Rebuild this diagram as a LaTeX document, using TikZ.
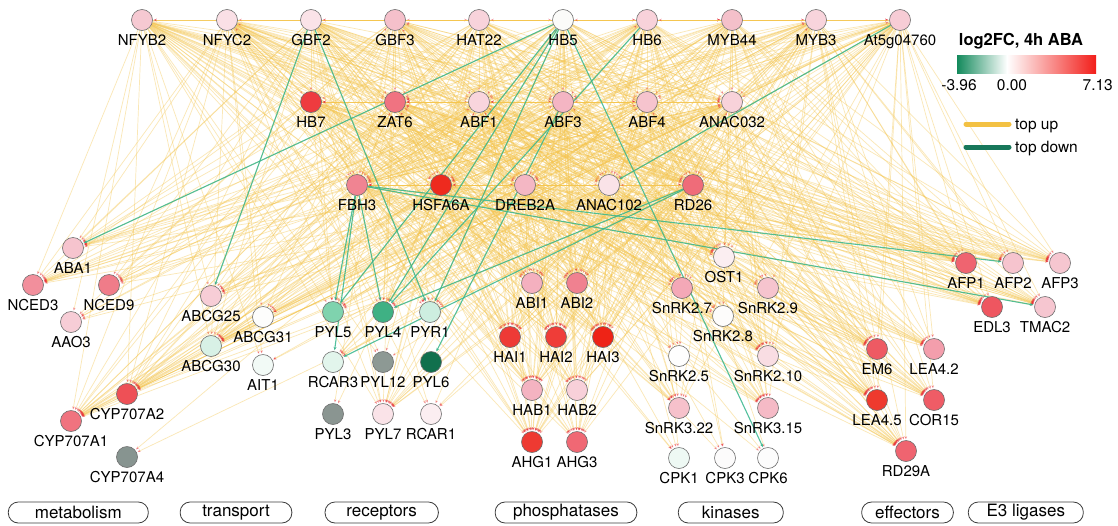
\documentclass[tikz,border=0pt]{standalone}
\usepackage{fontspec}
\setmainfont{TeX Gyre Heros}
\usetikzlibrary{arrows.meta}
\pgfdeclarelayer{bg}
\pgfsetlayers{bg,main}

\definecolor{nodeline}{HTML}{6E6E6E}
\definecolor{edgeup}{HTML}{F5C650}
\definecolor{edgedown}{HTML}{36B68C}
\definecolor{tipred}{HTML}{E8303A}
\definecolor{boxline}{HTML}{3C3C3C}
\definecolor{fcgreen}{HTML}{138A5C}
\definecolor{fcred}{HTML}{F21E1A}
\definecolor{legup}{HTML}{F3C143}
\definecolor{legdown}{HTML}{17775A}

\tikzset{
  gnode/.style={circle, draw=nodeline, line width=0.6pt, minimum size=21pt, inner sep=0pt},
  glabel/.style={anchor=base, inner sep=0pt, font=\fontsize{15}{18}\selectfont},
  yedge/.style={draw=edgeup, line width=0.7pt, opacity=0.42, shorten >=1pt,
    -{Stealth[length=3pt,width=2.6pt,color=tipred]}},
  gedge/.style={draw=edgedown, line width=1.1pt, opacity=0.85, shorten >=1pt,
    -{Stealth[length=3.5pt,width=3pt]}},
  catbox/.style={draw=boxline, line width=0.8pt, rounded corners=10pt,
    minimum height=21pt, inner sep=0pt, font=\fontsize{17}{20}\selectfont},
  legtext/.style={inner sep=0pt, font=\fontsize{15.5}{18}\selectfont},
}

% one gene: id, x, y, fill (HTML), printed name
\newcommand\gene[5]{%
  \definecolor{c#1}{HTML}{#4}%
  \node[gnode, fill=c#1] (#1) at (#2,#3) {};%
  \node[glabel] (#1-l) at (#2,#3+25) {#5};%
}

% regulators with their relative out-degree
\newcommand\regulatorlist{NFYB2/1.3,NFYC2/1.3,GBF2/1.3,GBF3/1.3,HAT22/1.3,HB5/1.3,HB6/1.3,MYB44/1.3,MYB3/1.3,At5g04760/1.3,HB7/1.0,ZAT6/1.0,ABF1/1.0,ABF3/1.0,ABF4/1.0,ANAC032/1.0,FBH3/0.8,HSFA6A/0.8,DREB2A/0.8,ANAC102/0.8,RD26/0.8}
% targets with their relative in-degree
\newcommand\targetlist{NFYB2/0.05,NFYC2/0.04,GBF2/0.04,GBF3/0.06,HAT22/0.06,HB5/0.03,HB6/0.06,MYB44/0.06,MYB3/0.06,At5g04760/0.06,HB7/0.15,ZAT6/0.3,ABF1/0.25,ABF3/0.3,ABF4/0.25,ANAC032/0.3,FBH3/0.4,HSFA6A/0.45,DREB2A/0.3,ANAC102/0.3,RD26/0.35,ABA1/0.2,NCED3/0.3,NCED9/0.15,AAO3/0.15,CYPA2/0.55,CYPA1/0.45,CYPA4/0.05,ABCG25/0.2,ABCG31/0.2,ABCG30/0.3,AIT1/0.1,PYL5/0.2,PYL4/0.2,PYR1/0.2,RCAR3/0.15,PYL12/0.05,PYL6/0.05,PYL3/0.05,PYL7/0.25,RCAR1/0.1,ABI1/0.25,ABI2/0.35,HAI1/0.5,HAI2/0.5,HAI3/0.45,HAB1/0.45,HAB2/0.25,AHG1/0.45,AHG3/0.3,OST1/0.3,SnRK27/0.2,SnRK28/0.1,SnRK29/0.15,SnRK25/0.1,SnRK210/0.3,SnRK322/0.2,SnRK315/0.25,CPK1/0.1,CPK3/0.1,CPK6/0.05,EM6/0.35,LEA42/0.3,LEA45/0.45,COR15/0.35,RD29A/0.5,AFP1/0.35,AFP2/0.3,AFP3/0.3,EDL3/0.5,TMAC2/0.35}

\begin{document}
\begin{tikzpicture}[x=1pt, y=-1pt]
\useasboundingbox (0,0) rectangle (1118,525);
\begin{pgfonlayer}{bg}
  \fill[white] (0,0) rectangle (1118,525);
\end{pgfonlayer}

% ---- transcription factors
\gene{NFYB2}{142}{20}{F6C9D2}{NFYB2}
\gene{NFYC2}{227}{20}{FAE0E6}{NFYC2}
\gene{GBF2}{311}{20}{FBE3E8}{GBF2}
\gene{GBF3}{395}{20}{F5C0CB}{GBF3}
\gene{HAT22}{479}{20}{F8D3DB}{HAT22}
\gene{HB5}{563}{20}{FBFBF9}{HB5}
\gene{HB6}{647}{20}{F8D2DA}{HB6}
\gene{MYB44}{732}{20}{F4C0CA}{MYB44}
\gene{MYB3}{816}{20}{F8D4DC}{MYB3}
\gene{At5g04760}{900}{20}{F7CCD5}{At5g04760}
\gene{HB7}{311}{102}{EE3B3F}{HB7}
\gene{ZAT6}{395}{102}{F07381}{ZAT6}
\gene{ABF1}{479}{102}{F9D5DD}{ABF1}
\gene{ABF3}{563}{102}{F4B5C3}{ABF3}
\gene{ABF4}{647}{102}{F6C4CE}{ABF4}
\gene{ANAC032}{732}{102}{F8D2DA}{ANAC032}
\gene{FBH3}{357}{185}{F08492}{FBH3}
\gene{HSFA6A}{441}{185}{EE2A1E}{HSFA6A}
\gene{DREB2A}{525}{185}{F4B7C4}{DREB2A}
\gene{ANAC102}{609}{185}{FAE3E8}{ANAC102}
\gene{RD26}{693}{185}{EF6C79}{RD26}

% ---- metabolism
\gene{ABA1}{73}{248}{F6C4CE}{ABA1}
\gene{NCED3}{33}{285}{F28F9C}{NCED3}
\gene{NCED9}{109}{285}{F07C89}{NCED9}
\gene{AAO3}{71}{322}{F7CDD6}{AAO3}
\gene{CYPA2}{127}{394}{EE5056}{CYP707A2}
\gene{CYPA1}{71}{421}{F0737F}{CYP707A1}
\gene{CYPA4}{127}{457}{879490}{CYP707A4}

% ---- transport
\gene{ABCG25}{211}{296}{F7CDD6}{ABCG25}
\gene{ABCG31}{263}{317}{FDFDFC}{ABCG31}
\gene{ABCG30}{211}{346}{D8F1E6}{ABCG30}
\gene{AIT1}{263}{365}{F2FAF6}{AIT1}

% ---- receptors
\gene{PYL5}{333}{312}{7FD3AE}{PYL5}
\gene{PYL4}{383}{312}{3FB184}{PYL4}
\gene{PYR1}{430}{312}{CDEEE0}{PYR1}
\gene{RCAR3}{333}{362}{E2F5EC}{RCAR3}
\gene{PYL12}{383}{362}{8D9994}{PYL12}
\gene{PYL6}{431}{362}{11704D}{PYL6}
\gene{PYL3}{333}{414}{8A9591}{PYL3}
\gene{PYL7}{383}{414}{FAE3E8}{PYL7}
\gene{RCAR1}{431}{414}{FBEEF1}{RCAR1}

% ---- phosphatases
\gene{ABI1}{532}{283}{F4B0BF}{ABI1}
\gene{ABI2}{577}{283}{F08190}{ABI2}
\gene{HAI1}{510}{337}{EE3A36}{HAI1}
\gene{HAI2}{556}{337}{EF3D38}{HAI2}
\gene{HAI3}{603}{337}{EE2316}{HAI3}
\gene{HAB1}{532}{390}{F4B3C1}{HAB1}
\gene{HAB2}{577}{390}{F8D0D9}{HAB2}
\gene{AHG1}{532}{442}{EE3A32}{AHG1}
\gene{AHG3}{577}{442}{F06874}{AHG3}

% ---- kinases
\gene{OST1}{724}{257}{FBEEF1}{OST1}
\gene{SnRK27}{682}{288}{F4A8B7}{SnRK2.7}
\gene{SnRK28}{723}{316}{FDFCFB}{SnRK2.8}
\gene{SnRK29}{768}{288}{F6C4CE}{SnRK2.9}
\gene{SnRK25}{679}{356}{FEFEFE}{SnRK2.5}
\gene{SnRK210}{768}{356}{F9DDE3}{SnRK2.10}
\gene{SnRK322}{679}{408}{F6C1CB}{SnRK3.22}
\gene{SnRK315}{768}{408}{F5BAC6}{SnRK3.15}
\gene{CPK1}{679}{458}{EEF9F4}{CPK1}
\gene{CPK3}{725}{458}{FCFBFB}{CPK3}
\gene{CPK6}{768}{458}{FCFCFC}{CPK6}

% ---- effectors
\gene{EM6}{877}{349}{EE5A63}{EM6}
\gene{LEA42}{934}{349}{F39EAC}{LEA4.2}
\gene{LEA45}{877}{400}{EE3A2E}{LEA4.5}
\gene{COR15}{934}{400}{EF5C66}{COR15}
\gene{RD29A}{906}{451}{EF6470}{RD29A}

% ---- E3 ligases
\gene{AFP1}{966}{263}{EF6470}{AFP1}
\gene{AFP2}{1013}{263}{F6C4CE}{AFP2}
\gene{AFP3}{1060}{263}{F6C6D0}{AFP3}
\gene{EDL3}{992}{307}{EE5660}{EDL3}
\gene{TMAC2}{1045}{307}{F6C6D0}{TMAC2}

% ---- regulatory edges (up-regulated targets)
\begin{pgfonlayer}{bg}
  \pgfmathsetseed{2718}
  \foreach \src/\sw in \regulatorlist {
    \foreach \dst/\wt in \targetlist {
      \ifx\src\dst\else
        \pgfmathsetmacro\rv{rnd}
        \pgfmathsetmacro\pv{2.7*\wt*\sw}
        \ifdim\rv pt<\pv pt
          \draw[yedge] (\src) -- (\dst);
        \fi
      \fi
    }
  }
  % down-regulated targets
  \draw[gedge] (HB5) -- (ABA1);
  \draw[gedge] (HB5) -- (PYL5);
  \draw[gedge] (HB5) -- (PYL4);
  \draw[gedge] (HB5) -- (PYR1);
  \draw[gedge] (HB5) -- (CPK6);
  \draw[gedge] (HB6) -- (PYL4);
  \draw[gedge] (GBF2) -- (ABCG25);
  \draw[gedge] (GBF2) -- (PYR1);
  \draw[gedge] (FBH3) -- (PYL5);
  \draw[gedge] (FBH3) -- (RCAR3);
  \draw[gedge] (FBH3) -- (PYL4);
  \draw[gedge] (FBH3) -- (AFP2);
  \draw[gedge] (FBH3) -- (TMAC2);
  \draw[gedge] (RD26) -- (RCAR3);
  \draw[gedge] (RD26) -- (PYL4);
  \draw[gedge] (At5g04760) -- (ANAC102);
  \draw[gedge] (ABF3) -- (PYL6);
\end{pgfonlayer}

% ---- functional groups
\node[catbox, minimum width=140pt] (catmet) at (78.3,512.5) {metabolism};
\node[catbox, minimum width=111.7pt] (cattra) at (236,512.5) {transport};
\node[catbox, minimum width=113.3pt] (catrec) at (381.7,512.5) {receptors};
\node[catbox, minimum width=141.7pt] (catpho) at (566,512.5) {phosphatases};
\node[catbox, minimum width=105pt] (catkin) at (730.8,512.5) {kinases};
\node[catbox, minimum width=91.7pt] (cateff) at (907.5,512.5) {effectors};
\node[catbox, minimum width=115pt] (cate3) at (1025.8,512.5) {E3 ligases};

% ---- colour scale
\node[legtext, anchor=base, font=\bfseries\fontsize{16.5}{20}\selectfont] (legtitle) at (1021,45) {log2FC, 4h ABA};
\shade[left color=fcgreen, right color=white] (957,55) rectangle (1007,73);
\shade[left color=white, right color=fcred] (1007,55) rectangle (1096,73);
\node[legtext, anchor=base] (legmin) at (959,90) {-3.96};
\node[legtext, anchor=base] (legzero) at (1012,90) {0.00};
\node[legtext, anchor=base east] (legmax) at (1113,90) {7.13};

% ---- edge legend
\coordinate (upa) at (966,124);
\coordinate (upb) at (1009,124);
\coordinate (dna) at (966,147);
\coordinate (dnb) at (1009,147);
\draw[legup, line width=5pt, line cap=round] (upa) -- (upb);
\draw[legdown, line width=5pt, line cap=round] (dna) -- (dnb);
\node[legtext, anchor=base west] (legupt) at (1015,129) {top up};
\node[legtext, anchor=base west] (legdnt) at (1015,152) {top down};
\end{tikzpicture}
\end{document}
